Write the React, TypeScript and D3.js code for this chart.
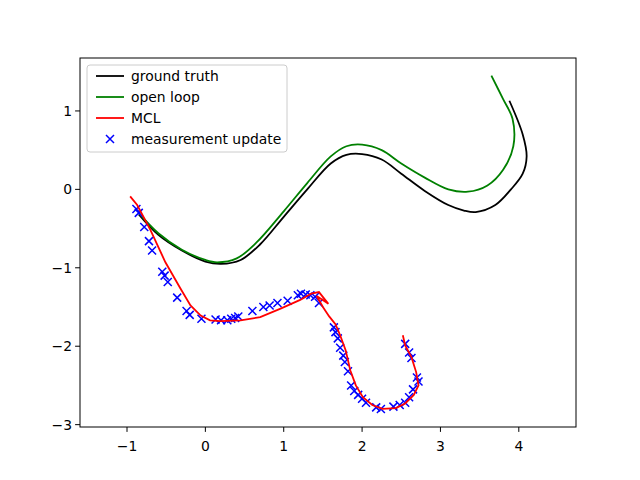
import React from 'react';
import * as d3 from 'd3';

type P = [number, number];

const groundTruth: P[] = [[-0.85,-0.32],[-0.6,-0.58],[-0.3,-0.78],[0,-0.92],[0.2,-0.95],[0.45,-0.9],[0.7,-0.7],[1,-0.35],[1.3,0],[1.6,0.33],[1.8,0.44],[2,0.45],[2.25,0.38],[2.5,0.2],[2.8,-0.02],[3.1,-0.2],[3.3,-0.27],[3.45,-0.29],[3.7,-0.2],[3.9,0],[4.05,0.2],[4.1,0.42],[4.05,0.7],[3.88,1.13]];
const openLoop: P[] = [[-0.85,-0.3],[-0.6,-0.56],[-0.3,-0.77],[0,-0.9],[0.15,-0.93],[0.4,-0.88],[0.65,-0.68],[1,-0.28],[1.3,0.08],[1.6,0.42],[1.8,0.55],[2,0.57],[2.25,0.5],[2.5,0.33],[2.8,0.15],[3.1,0],[3.35,-0.03],[3.6,0.05],[3.8,0.25],[3.93,0.55],[3.92,0.9],[3.8,1.15],[3.65,1.45]];
const mcl: P[] = [[-0.96,-0.09],[-0.87,-0.2],[-0.7,-0.52],[-0.51,-0.93],[-0.32,-1.26],[-0.19,-1.48],[-0.06,-1.61],[0.06,-1.67],[0.19,-1.68],[0.45,-1.67],[0.7,-1.63],[0.96,-1.52],[1.21,-1.41],[1.35,-1.33],[1.45,-1.31],[1.57,-1.46],[1.42,-1.36],[1.5,-1.5],[1.58,-1.62],[1.66,-1.72],[1.72,-1.86],[1.79,-2.05],[1.85,-2.31],[1.92,-2.5],[2.01,-2.65],[2.13,-2.75],[2.26,-2.8],[2.43,-2.79],[2.55,-2.73],[2.66,-2.62],[2.72,-2.5],[2.69,-2.33],[2.63,-2.14],[2.55,-1.99],[2.52,-1.86]];
const measurements: P[] = [[-0.88,-0.25],[-0.85,-0.3],[-0.78,-0.48],[-0.72,-0.66],[-0.68,-0.78],[-0.55,-1.05],[-0.52,-1.1],[-0.48,-1.18],[-0.36,-1.38],[-0.24,-1.55],[-0.2,-1.6],[-0.05,-1.65],[0.13,-1.66],[0.2,-1.67],[0.28,-1.67],[0.33,-1.65],[0.38,-1.64],[0.42,-1.62],[0.6,-1.55],[0.74,-1.5],[0.82,-1.48],[0.92,-1.45],[1.05,-1.42],[1.18,-1.35],[1.22,-1.33],[1.28,-1.34],[1.34,-1.35],[1.4,-1.37],[1.45,-1.45],[1.64,-1.76],[1.66,-1.82],[1.69,-1.9],[1.72,-2.02],[1.76,-2.12],[1.78,-2.2],[1.82,-2.32],[1.86,-2.5],[1.9,-2.57],[1.95,-2.62],[2,-2.67],[2.05,-2.72],[2.18,-2.78],[2.24,-2.8],[2.4,-2.77],[2.48,-2.75],[2.55,-2.72],[2.6,-2.65],[2.65,-2.55],[2.72,-2.45],[2.7,-2.4],[2.63,-2.15],[2.6,-2.08],[2.55,-1.97]];

const xTicks = [-1, 0, 1, 2, 3, 4];
const yTicks = [-3, -2, -1, 0, 1];

const legendItems = [
  { label: 'ground truth', color: 'black', kind: 'line' },
  { label: 'open loop', color: 'green', kind: 'line' },
  { label: 'MCL', color: 'red', kind: 'line' },
  { label: 'measurement update', color: 'blue', kind: 'marker' },
];

const W = 640, H = 480;
const L = 80, R = 576, T = 58, B = 427;

export default function App() {
  const x = d3.scaleLinear().domain([-1.6, 4.73]).range([L, R]);
  const y = d3.scaleLinear().domain([-3.03, 1.675]).range([B, T]);
  const line = d3.line<P>().x(d => x(d[0])).y(d => y(d[1])).curve(d3.curveCatmullRom);
  const font = 'DejaVu Sans';
  const cross = (cx: number, cy: number, s: number, c: string, k: number) => (
    <path key={k} d={`M${cx - s},${cy - s}L${cx + s},${cy + s}M${cx - s},${cy + s}L${cx + s},${cy - s}`} stroke={c} strokeWidth={1.5} />
  );
  return (
    <svg width={W} height={H} style={{ position: 'absolute', left: 0, top: 0 }} fontFamily={font}>
      <rect width={W} height={H} fill="white" />
      <defs>
        <clipPath id="clip"><rect x={L} y={T} width={R - L} height={B - T} /></clipPath>
      </defs>
      <g clipPath="url(#clip)">
        <path d={line(groundTruth) ?? ''} fill="none" stroke="black" strokeWidth={1.8} />
        <path d={line(openLoop) ?? ''} fill="none" stroke="green" strokeWidth={1.8} />
        {measurements.map((d, i) => cross(x(d[0]), y(d[1]), 4, 'blue', i))}
        <path d={d3.line<P>().x(d => x(d[0])).y(d => y(d[1]))(mcl) ?? ''} fill="none" stroke="red" strokeWidth={1.8} />
      </g>
      <rect x={L} y={T} width={R - L} height={B - T} fill="none" stroke="black" strokeWidth={1} />
      {xTicks.map(t => (
        <g key={t} transform={`translate(${x(t)},${B})`}>
          <line y2={4.9} stroke="black" />
          <text y={19} textAnchor="middle" fontSize={13.9} dy="0.35em">{t < 0 ? '\u2212' + -t : t}</text>
        </g>
      ))}
      {yTicks.map(t => (
        <g key={t} transform={`translate(${L},${y(t)})`}>
          <line x2={-4.9} stroke="black" />
          <text x={-8} textAnchor="end" fontSize={13.9} dy="0.35em">{t < 0 ? '\u2212' + -t : t}</text>
        </g>
      ))}
      <g transform="translate(87,65)">
        <rect width={200} height={87} rx={3} fill="white" fillOpacity={0.8} stroke="#ccc" />
        {legendItems.map((it, i) => {
          const cy = 11 + i * 21;
          return (
            <g key={it.label}>
              {it.kind === 'line'
                ? <line x1={9} x2={37} y1={cy} y2={cy} stroke={it.color} strokeWidth={1.8} />
                : cross(23, cy, 4, it.color, 99)}
              <text x={44} y={cy} dy="0.35em" fontSize={13.9}>{it.label}</text>
            </g>
          );
        })}
      </g>
    </svg>
  );
}
